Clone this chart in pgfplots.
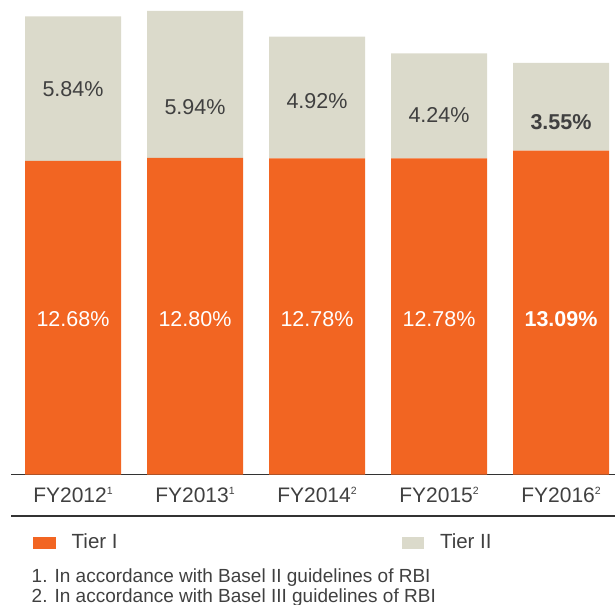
\documentclass[border=0pt]{standalone}
\usepackage{fontspec}
\setmainfont{Liberation Sans}
\usepackage{pgfplots}
\pgfplotsset{compat=1.18}
\definecolor{tierone}{HTML}{F26522}
\definecolor{tiertwo}{HTML}{DBDACB}
\definecolor{txt}{HTML}{404040}
\definecolor{rulecol}{HTML}{333333}
\newcommand{\fnm}[1]{\raisebox{7.5bp}{\fontsize{10.5bp}{10bp}\selectfont #1}}

\begin{document}
\begin{tikzpicture}[lab/.style={font=\fontsize{21.5bp}{26bp}\selectfont, inner sep=0pt, anchor=center}]
\useasboundingbox (0,0) rectangle (615bp,605bp);
\begin{axis}[
  at={(11bp,130.5bp)}, anchor=south west,
  scale only axis, width=604bp, height=474.5bp,
  ybar stacked, bar width=96bp,
  xmin=-0.5082, xmax=4.4426, ymin=0, ymax=19.18,
  axis x line=bottom, axis y line=none,
  x axis line style={-, draw=rulecol, line width=1.6bp},
  xtick={0,1,2,3,4},
  xticklabels={FY2012\fnm{1}, FY2013\fnm{1}, FY2014\fnm{2}, FY2015\fnm{2}, FY2016\fnm{2}},
  major tick length=0pt,
  x tick label style={anchor=base, yshift=-27.5bp, font=\fontsize{21bp}{24bp}\selectfont, text=txt},
  legend columns=2, legend cell align=left,
  legend image code/.code={\fill[#1] (0bp,-7.16bp) rectangle (22.4bp,4.54bp);},
  legend style={at={(axis description cs:0.0369,-0.1418)}, anchor=west,
    draw=none, fill=none, inner sep=0pt, outer sep=0pt,
    font=\fontsize{20.5bp}{24bp}\selectfont, text=txt, nodes={inner sep=0pt},
    /tikz/every odd column/.append style={column sep=16bp},
    /tikz/every even column/.append style={column sep=284bp}},
  clip=false,
]
\addplot[fill=tierone, draw=none] coordinates {(0,12.68) (1,12.80) (2,12.78) (3,12.78) (4,13.09)};
\addplot[fill=tiertwo, draw=none] coordinates {(0,5.84) (1,5.94) (2,4.92) (3,4.24) (4,3.55)};
\legend{Tier I, Tier II}
% label anchors, drawn after the axis so they sit above the bars
\coordinate (a0) at (axis cs:0,6.27);
\coordinate (a1) at (axis cs:1,6.27);
\coordinate (a2) at (axis cs:2,6.27);
\coordinate (a3) at (axis cs:3,6.27);
\coordinate (a4) at (axis cs:4,6.27);
\coordinate (b0) at (axis cs:0,15.56);
\coordinate (b1) at (axis cs:1,14.87);
\coordinate (b2) at (axis cs:2,15.10);
\coordinate (b3) at (axis cs:3,14.52);
\coordinate (b4) at (axis cs:4,14.23);
\end{axis}
\node[lab, text=white] at (a0) {12.68\%};
\node[lab, text=white] at (a1) {12.80\%};
\node[lab, text=white] at (a2) {12.78\%};
\node[lab, text=white] at (a3) {12.78\%};
\node[lab, text=white] at (a4) {\bfseries 13.09\%};
\node[lab, text=txt] at (b0) {5.84\%};
\node[lab, text=txt] at (b1) {5.94\%};
\node[lab, text=txt] at (b2) {4.92\%};
\node[lab, text=txt] at (b3) {4.24\%};
\node[lab, text=txt] at (b4) {\bfseries 3.55\%};
\draw[rulecol, line width=1.6bp] (11bp,89bp) -- (615bp,89bp);
\node[anchor=base west, inner sep=0pt, text=txt, font=\fontsize{19bp}{23bp}\selectfont]
  at (31.5bp,23bp) {1. In accordance with Basel II guidelines of RBI};
\node[anchor=base west, inner sep=0pt, text=txt, font=\fontsize{19bp}{23bp}\selectfont]
  at (31.5bp,2.5bp) {2. In accordance with Basel III guidelines of RBI};
\end{tikzpicture}
\end{document}
